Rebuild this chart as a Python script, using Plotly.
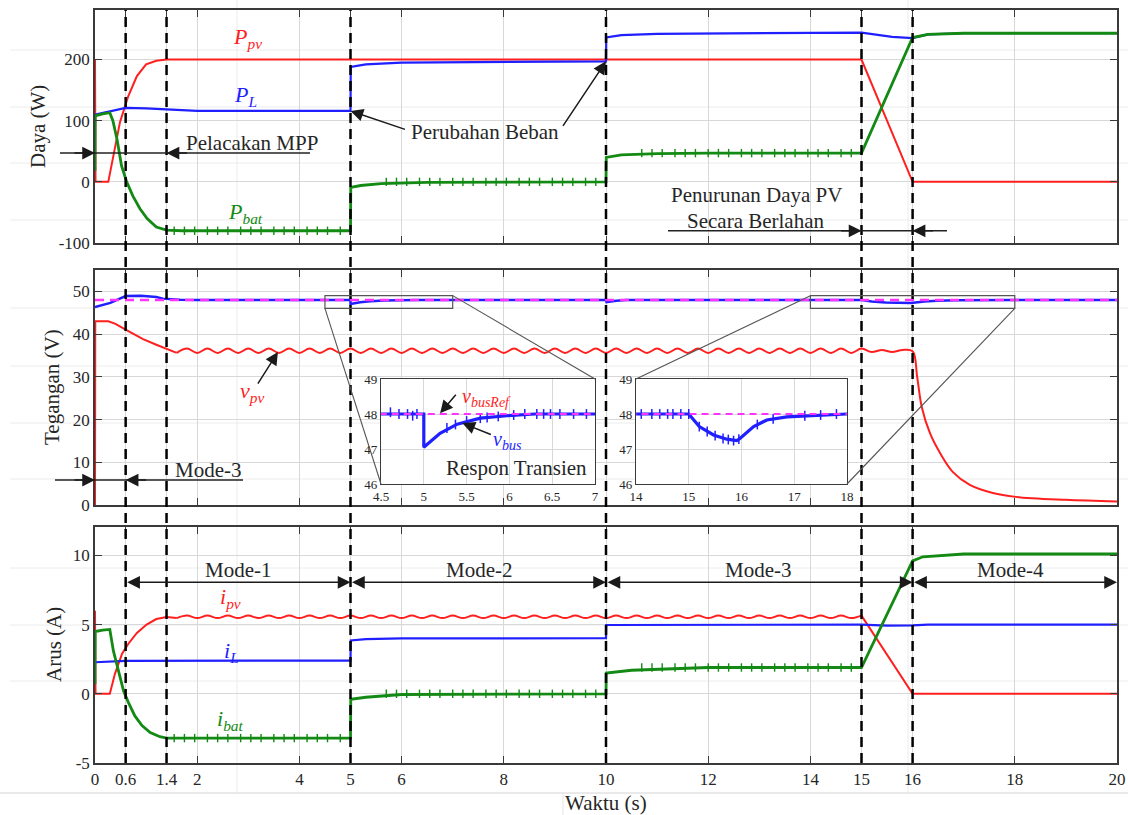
import plotly.graph_objects as go

W, H = 1128, 815
FONT = "Liberation Serif, Times New Roman, serif"
RED, BLUE, GREEN, MAG = "#ff1f1f", "#1f1fff", "#138a13", "#ff33ff"
INK = "#262626"

# ---------------- data ----------------
x_ticks = [0, 0.6, 1.4, 2, 4, 5, 6, 8, 10, 12, 14, 15, 16, 18, 20]
events = [0.6, 1.4, 5, 10, 15, 16]

# Power panel (W)
ppv_t = [0, 0, 0.01, 0.26, 0.36, 0.49, 0.65, 0.82, 1.0, 1.2, 1.4, 15, 16, 20]
ppv_v = [18, 200, 0, 0, 42, 98, 140, 173, 192, 198, 200, 200, 0, 0]
pl_t = [0, 0.3, 0.6, 1.0, 1.4, 2.0, 5.0, 5.005, 5.3, 6.0, 10.0, 10.005, 10.3, 11.0,
        15.0, 15.3, 15.6, 16.0, 16.3, 17.0, 20.0]
pl_v = [110, 116, 121, 120, 118, 116, 116, 188, 192, 195, 197, 236, 240, 242,
        244, 241, 237, 235, 241, 243, 243]
pbat_t = [0, 0.005, 0.15, 0.29, 0.35, 0.43, 0.52, 0.62, 0.74, 0.88, 1.02, 1.2, 1.4, 1.7,
          5.0, 5.005, 5.2, 5.6, 6.5, 10.0, 10.005, 10.3, 11.0, 12.0, 15.0, 16.0, 16.3, 17.0, 20.0]
pbat_v = [18, 108, 111, 113, 100, 70, 26, 0, -23, -44, -60, -74, -79, -80,
          -80, -9, -6, -3, -1, 0, 40, 44, 46, 47, 47, 236, 241, 243, 243]

# ripple sample times (steady-state MPPT ripple)
t_rip = [1.6, 1.8, 2.0, 2.2, 2.4, 2.6, 2.8, 3.0, 3.2, 3.4,
         3.6, 3.8, 4.0, 4.2, 4.4, 4.6, 4.8, 5.0, 5.2, 5.4,
         5.6, 5.8, 6.0, 6.2, 6.4, 6.6, 6.8, 7.0, 7.2, 7.4,
         7.6, 7.8, 8.0, 8.2, 8.4, 8.6, 8.8, 9.0, 9.2, 9.4,
         9.6, 9.8, 10.0, 10.2, 10.4, 10.6, 10.8, 11.0, 11.2, 11.4,
         11.6, 11.8, 12.0, 12.2, 12.4, 12.6, 12.8, 13.0, 13.2, 13.4,
         13.6, 13.8, 14.0, 14.2, 14.4, 14.6, 14.8, 15.0]

# Voltage panel (V)
vpv_t_head = [0, 0.005, 0.26, 0.4, 0.59, 0.94, 1.2, 1.4]
vpv_v_head = [0, 43, 43, 42.4, 41.1, 38.8, 37.5, 36.5]
vpv_rip = [35.6, 36.6, 35.6, 36.6, 35.6, 36.6, 35.6, 36.6, 35.6, 36.6,
           35.6, 36.6, 35.6, 36.6, 35.6, 36.6, 35.6, 36.6, 35.6, 36.6,
           35.6, 36.6, 35.6, 36.6, 35.6, 36.6, 35.6, 36.6, 35.6, 36.6,
           35.6, 36.6, 35.6, 36.6, 35.6, 36.6, 35.6, 36.6, 35.6, 36.6,
           35.6, 36.6, 35.6, 36.6, 35.6, 36.6, 35.6, 36.6, 35.6, 36.6,
           35.6, 36.6, 35.6, 36.6, 35.6, 36.6, 35.6, 36.6, 35.6, 36.6,
           35.6, 36.6, 35.6, 36.6, 35.6, 36.6, 35.6, 36.6]
vpv_t_tail = [15.2, 15.4, 15.6, 15.8, 16.0, 16.09, 16.18, 16.34, 16.54, 16.79, 17.12, 17.57, 18.02, 19.0, 20.0]
vpv_v_tail = [35.8, 36.3, 35.8, 36.3, 36.0, 29.9, 22.9, 16.8, 12.1, 7.7, 4.7, 2.8, 1.9, 1.2, 0.8]

vbus_t = [0, 0.3, 0.6, 0.9, 1.2, 1.33, 1.66, 2.0, 5.0, 5.0, 5.19, 5.39, 5.66, 5.97, 6.3,
          10.0, 10.01, 10.2, 10.4, 15.0, 15.2, 15.47, 15.72, 15.91, 15.97, 16.23, 16.48,
          16.86, 17.5, 18.0, 20.0]
vbus_v = [46.3, 47.3, 48.9, 49.0, 48.7, 48.3, 48.06, 48.0, 48.0, 47.05, 47.45, 47.71, 47.88, 47.95, 48.0,
          48.0, 47.5, 47.8, 48.0, 48.0, 47.64, 47.4, 47.28, 47.24, 47.3, 47.64, 47.83,
          47.92, 47.97, 48.0, 48.0]
vref_t = [0, 20]
vref_v = [48, 48]

# inset switching spikes on v_bus
spk_in_t = [4.61, 4.71, 4.81, 4.87, 4.92, 5.27, 5.37, 5.5, 5.66, 5.74, 5.87, 6.05, 6.18, 6.32,
            6.4, 6.48, 6.59, 6.75, 6.9,
            14.1, 14.3, 14.45, 14.6, 14.7, 14.85, 15.0, 15.2, 15.35, 15.5, 15.65, 15.75, 15.85,
            15.95, 16.3, 16.6, 17.2, 17.5, 17.8]
spk_in_v = [48.05, 48.0, 48.0, 47.95, 48.0, 47.6, 47.7, 47.8, 47.88, 47.9, 47.93, 47.97, 48.0, 48.0,
            48.0, 48.0, 48.0, 48.0, 48.0,
            48.0, 48.0, 48.0, 48.0, 48.0, 48.0, 48.0, 47.64, 47.5, 47.38, 47.3, 47.27, 47.24,
            47.28, 47.7, 47.86, 47.95, 47.97, 48.0]

# Current panel (A)
ipv_t_head = [0, 0, 0.01, 0.29, 0.39, 0.53, 0.65, 0.82, 1.01, 1.2, 1.4]
ipv_v_head = [0.7, 6.0, 0, 0, 1.44, 2.9, 3.6, 4.4, 5.0, 5.4, 5.55]
ipv_rip = [5.47, 5.65, 5.47, 5.65, 5.47, 5.65, 5.47, 5.65, 5.47, 5.65,
           5.47, 5.65, 5.47, 5.65, 5.47, 5.65, 5.47, 5.65, 5.47, 5.65,
           5.47, 5.65, 5.47, 5.65, 5.47, 5.65, 5.47, 5.65, 5.47, 5.65,
           5.47, 5.65, 5.47, 5.65, 5.47, 5.65, 5.47, 5.65, 5.47, 5.65,
           5.47, 5.65, 5.47, 5.65, 5.47, 5.65, 5.47, 5.65, 5.47, 5.65,
           5.47, 5.65, 5.47, 5.65, 5.47, 5.65, 5.47, 5.65, 5.47, 5.65,
           5.47, 5.65, 5.47, 5.65, 5.47, 5.65, 5.47, 5.65]
ipv_t_tail = [16.0, 20.0]
ipv_v_tail = [0, 0]
il_t = [0, 0.6, 5.0, 5.005, 5.3, 6.0, 10.0, 10.005, 15.0, 15.5, 16.0, 16.3, 20.0]
il_v = [2.28, 2.38, 2.4, 3.85, 3.95, 4.0, 4.02, 4.97, 5.0, 4.92, 4.95, 5.0, 5.0]
ibat_t = [0, 0.005, 0.15, 0.29, 0.36, 0.46, 0.56, 0.65, 0.78, 0.92, 1.08, 1.27, 1.4,
          5.0, 5.005, 5.3, 6.0, 10.0, 10.005, 10.5, 12.0, 15.0, 16.0, 16.2, 17.0, 20.0]
ibat_v = [0.7, 4.5, 4.6, 4.65, 3.1, 1.66, 0.2, -0.6, -1.6, -2.3, -2.8, -3.1, -3.2,
          -3.2, -0.4, -0.25, -0.05, 0.0, 1.5, 1.7, 1.9, 1.9, 9.6, 9.9, 10.1, 10.1]

# battery switching spikes (times) and plateau levels per stage
spk_t = [[1.55, 1.75, 1.95, 2.2, 2.4, 2.6, 2.85, 3.05, 3.25, 3.5, 3.7, 3.9, 4.15, 4.35, 4.55, 4.8],
         [5.7, 5.9, 6.1, 6.35, 6.55, 6.75, 7.0, 7.2, 7.4, 7.65, 7.85, 8.05, 8.3, 8.5, 8.7,
          8.95, 9.15, 9.35, 9.6, 9.8],
         [10.7, 10.9, 11.1, 11.35, 11.55, 11.75, 12.0, 12.2, 12.4, 12.65, 12.85, 13.05, 13.3,
          13.5, 13.7, 13.95, 14.15, 14.35, 14.6, 14.8]]
pbat_level = [-80, 0, 47]
ibat_level = [-3.2, 0.0, 1.9]

y1_ticks = [-100, 0, 100, 200]
y2_ticks = [0, 10, 20, 30, 40, 50]
y3_ticks = [-5, 0, 5, 10]

# ---------------- geometry ----------------
X0, X1 = 95 / W, 1117 / W
def py(p):
    return 1 - p / H
dom_top = [py(243), py(10)]
dom_mid = [py(505), py(270)]
dom_bot = [py(763), py(527)]
in1_x = [381 / W, 595 / W]
in2_x = [636 / W, 847 / W]
in_y = [py(484), py(379)]
XR = [0, 20]
YR1, YR2, YR3 = [-100, 281], [0, 55], [-5, 12.05]
IN1R, IN2R, INYR = [4.5, 7], [14, 18], [46, 49]

fig = go.Figure()

def line(x, y, xa, ya, color, width, shape="linear", dash=None):
    fig.add_trace(go.Scatter(
        x=x, y=y, xaxis=xa, yaxis=ya, mode="lines",
        line=dict(color=color, width=width, shape=shape, dash=dash,
                  smoothing=1.0 if shape == "spline" else None),
        hoverinfo="skip", showlegend=False))

def ticks_marks(x, y, xa, ya, color, size, width):
    fig.add_trace(go.Scatter(
        x=x, y=y, xaxis=xa, yaxis=ya, mode="markers",
        marker=dict(symbol="line-ns", size=size, color=color,
                    line=dict(color=color, width=width)),
        hoverinfo="skip", showlegend=False))

# top panel
line(ppv_t, ppv_v, "x", "y", RED, 2)
line(pl_t, pl_v, "x", "y", BLUE, 2.2)
line(pbat_t, pbat_v, "x", "y", GREEN, 2.8)
for ts, lv in zip(spk_t, pbat_level):
    ticks_marks(ts, [lv] * len(ts), "x", "y", GREEN, 6, 1.4)

# middle panel
vpv_t = vpv_t_head + t_rip + vpv_t_tail
vpv_v = vpv_v_head + vpv_rip + vpv_v_tail
nh = len(vpv_t_head)
line(vpv_t[:nh + 1], vpv_v[:nh + 1], "x2", "y2", RED, 2)
line(vpv_t[nh:], vpv_v[nh:], "x2", "y2", RED, 2, shape="spline")
line(vbus_t, vbus_v, "x2", "y2", BLUE, 2.5)
line(vref_t, vref_v, "x2", "y2", MAG, 2.5, dash="9px,6px")

# bottom panel
ipv_t = ipv_t_head + t_rip + ipv_t_tail
ipv_v = ipv_v_head + ipv_rip + ipv_v_tail
nh = len(ipv_t_head)
nr = len(t_rip)
line(ipv_t[:nh + 1], ipv_v[:nh + 1], "x3", "y3", RED, 2)
line(ipv_t[nh:nh + nr], ipv_v[nh:nh + nr], "x3", "y3", RED, 2, shape="spline")
line(ipv_t[nh + nr - 1:], ipv_v[nh + nr - 1:], "x3", "y3", RED, 2)
line(il_t, il_v, "x3", "y3", BLUE, 2.2)
line(ibat_t, ibat_v, "x3", "y3", GREEN, 2.8)
for ts, lv in zip(spk_t, ibat_level):
    ticks_marks(ts, [lv] * len(ts), "x3", "y3", GREEN, 6, 1.4)

# insets
for xa, ya in (("x4", "y4"), ("x5", "y5")):
    line(vbus_t, vbus_v, xa, ya, BLUE, 3.2)
    ticks_marks(spk_in_t, spk_in_v, xa, ya, BLUE, 7, 1.5)
    line(vref_t, vref_v, xa, ya, MAG, 2, dash="7px,5px")

# ---------------- axes ----------------
def axis(**kw):
    d = dict(showline=True, linecolor="#3a3a3a", linewidth=1.5, mirror="ticks",
             ticks="inside", ticklen=7, tickwidth=1.2, tickcolor="#3a3a3a",
             showgrid=True, gridcolor="#d8d8d8", gridwidth=1, zeroline=False,
             automargin=False, fixedrange=True,
             tickfont=dict(family=FONT, size=17, color=INK))
    d.update(kw)
    return d

def inset_axis(**kw):
    d = axis(ticks="", mirror=True, linewidth=1.2, tickfont=dict(family=FONT, size=13, color=INK))
    d.update(kw)
    return d

def lab(vals):
    return [str(v) for v in vals]

fig.update_layout(
    width=W, height=H, template="none",
    margin=dict(l=0, r=0, t=0, b=0),
    paper_bgcolor="white", plot_bgcolor="white",
    font=dict(family=FONT, color=INK),
    showlegend=False,
    xaxis=axis(domain=[X0, X1], range=XR, tickvals=x_ticks, showticklabels=False, anchor="y"),
    yaxis=axis(domain=dom_top, range=YR1, tickvals=y1_ticks, ticktext=lab(y1_ticks), anchor="x"),
    xaxis2=axis(domain=[X0, X1], range=XR, tickvals=x_ticks, showticklabels=False, anchor="y2"),
    yaxis2=axis(domain=dom_mid, range=YR2, tickvals=y2_ticks, ticktext=lab(y2_ticks), anchor="x2"),
    xaxis3=axis(domain=[X0, X1], range=XR, tickvals=x_ticks, ticktext=lab(x_ticks), anchor="y3"),
    yaxis3=axis(domain=dom_bot, range=YR3, tickvals=y3_ticks, ticktext=lab(y3_ticks), anchor="x3"),
    xaxis4=inset_axis(domain=in1_x, range=IN1R, tickvals=[4.5, 5, 5.5, 6, 6.5, 7], anchor="y4"),
    yaxis4=inset_axis(domain=in_y, range=INYR, tickvals=[46, 47, 48, 49], anchor="x4"),
    xaxis5=inset_axis(domain=in2_x, range=IN2R, tickvals=[14, 15, 16, 17, 18], anchor="y5"),
    yaxis5=inset_axis(domain=in_y, range=INYR, tickvals=[46, 47, 48, 49], anchor="x5"),
)

# ---------------- shapes ----------------
shapes = []
# faint background grid of the source page
for yp in [50, 107, 163, 220, 308, 366, 423, 479, 568, 625, 681]:
    shapes.append(dict(type="line", xref="paper", yref="paper", x0=10 / W, x1=1,
                       y0=py(yp), y1=py(yp), line=dict(color="#ececec", width=1), layer="below"))
for xp in [237, 908]:
    shapes.append(dict(type="line", xref="paper", yref="paper", x0=xp / W, x1=xp / W,
                       y0=py(793), y1=1, line=dict(color="#ececec", width=1), layer="below"))
shapes.append(dict(type="line", xref="paper", yref="paper", x0=0, x1=1, y0=py(793), y1=py(793),
                   line=dict(color="#d4d4d4", width=1), layer="below"))
shapes.append(dict(type="line", xref="paper", yref="paper", x0=563 / W, x1=563 / W, y0=0, y1=py(793),
                   line=dict(color="#e4e4e4", width=1), layer="below"))

# event dashed lines across all panels
for t in events:
    shapes.append(dict(type="line", xref="x", yref="paper", x0=t, x1=t,
                       y0=dom_bot[0], y1=dom_top[1],
                       line=dict(color="black", width=2.5, dash="10px,6px"), layer="above"))

def mx(t):
    return X0 + (t - XR[0]) / (XR[1] - XR[0]) * (X1 - X0)
def my2(v):
    return dom_mid[0] + (v - YR2[0]) / (YR2[1] - YR2[0]) * (dom_mid[1] - dom_mid[0])

# zoom boxes and connectors
for (xr, ix) in ((IN1R, in1_x), (IN2R, in2_x)):
    shapes.append(dict(type="rect", xref="x2", yref="y2", x0=xr[0], x1=xr[1], y0=INYR[0], y1=INYR[1],
                       line=dict(color="#555555", width=1.2), layer="above"))
shapes.append(dict(type="line", xref="paper", yref="paper", x0=mx(IN1R[0]), y0=my2(INYR[0]),
                   x1=in1_x[0], y1=in_y[0], line=dict(color="#555555", width=1.1)))
shapes.append(dict(type="line", xref="paper", yref="paper", x0=mx(IN1R[1]), y0=my2(INYR[1]),
                   x1=in1_x[1], y1=in_y[1], line=dict(color="#555555", width=1.1)))
shapes.append(dict(type="line", xref="paper", yref="paper", x0=mx(IN2R[0]), y0=my2(INYR[1]),
                   x1=in2_x[0], y1=in_y[1], line=dict(color="#555555", width=1.1)))
shapes.append(dict(type="line", xref="paper", yref="paper", x0=mx(IN2R[1]), y0=my2(INYR[0]),
                   x1=in2_x[1], y1=in_y[0], line=dict(color="#555555", width=1.1)))

# horizontal guide lines for interval markers
shapes.append(dict(type="line", xref="paper", yref="y", x0=60 / W, x1=310 / W, y0=47, y1=47,
                   line=dict(color="#222", width=1.5)))
shapes.append(dict(type="line", xref="paper", yref="y", x0=668 / W, x1=947 / W, y0=-80, y1=-80,
                   line=dict(color="#222", width=1.5)))
shapes.append(dict(type="line", xref="paper", yref="y2", x0=55 / W, x1=243 / W, y0=5.84, y1=5.84,
                   line=dict(color="#222", width=1.5)))
fig.update_layout(shapes=shapes)

# ---------------- annotations ----------------
anns = []
def txt(xp, yp, text, color=INK, size=21, angle=0):
    anns.append(dict(xref="paper", yref="paper", x=xp / W, y=py(yp), text=text, showarrow=False,
                     xanchor="center", yanchor="middle", textangle=angle,
                     font=dict(family=FONT, size=size, color=color)))

def arrow(x, y, xr, yr, ax, ay, axref="pixel", side="end"):
    d = dict(xref=xr, yref=yr, x=x, y=y, ax=ax, ay=ay, text="", showarrow=True,
             arrowhead=2, arrowsize=1.7, arrowwidth=1.5, arrowcolor="#1a1a1a",
             standoff=0, startstandoff=0, arrowside=side)
    if axref != "pixel":
        d.update(axref=axref, ayref=yr, startarrowhead=2, startarrowsize=1.7)
    anns.append(d)

def it(main, sub):
    return f"<i>{main}</i><sub><i>{sub}</i></sub>"

txt(38, 127, "Daya (W)", angle=-90)
txt(52, 387, "Tegangan (V)", angle=-90)
txt(54, 645, "Arus (A)", angle=-90)
txt(606, 803, "Waktu (s)")

txt(247, 38, it("P", "pv"), RED, 22)
txt(245, 96, it("P", "L"), BLUE, 22)
txt(245, 213, it("P", "bat"), GREEN, 22)
txt(252, 143, "Pelacakan MPP")
txt(485, 132, "Perubahan Beban")
txt(756, 195, "Penurunan Daya PV")
txt(756, 221, "Secara Berlahan")

txt(252, 392, it("v", "pv"), RED, 22)
txt(208, 470, "Mode-3")
txt(486, 397, it("v", "busRef"), RED, 20)
txt(507, 440, it("v", "bus"), BLUE, 20)
txt(516, 468, "Respon Transien")

txt(238, 570, "Mode-1")
txt(479, 570, "Mode-2")
txt(758, 570, "Mode-3")
txt(1010, 570, "Mode-4")
txt(230, 598, it("i", "pv"), RED, 22)
txt(231, 652, it("i", "L"), BLUE, 22)
txt(230, 720, it("i", "bat"), GREEN, 22)

# interval arrows
arrow(0, 47, "x", "y", -22, 0)
arrow(1.4, 47, "x", "y", 22, 0)
arrow(15, -80, "x", "y", -22, 0)
arrow(16, -80, "x", "y", 22, 0)
arrow(0, 5.84, "x2", "y2", -22, 0)
arrow(0.6, 5.84, "x2", "y2", 22, 0)
# pointer arrows
arrow(5, 116, "x", "y", 56, 19)
arrow(10, 197, "x", "y", -44, 66)
arrow(3.58, 35.8, "x2", "y2", -21, 33)
arrow(5.19, 48.02, "x4", "y4", 17, -20)
arrow(5.45, 47.74, "x4", "y4", 30, 12)
# mode spans (double headed)
mode_edges = [0.6, 5, 10, 16, 20]
for a, b in zip(mode_edges[:-1], mode_edges[1:]):
    arrow(b, 8.05, "x3", "y3", a, 8.05, axref="x3", side="end+start")

fig.update_layout(annotations=anns)
fig.write_html("out.html", config={"displayModeBar": False},
               post_script="document.body.style.margin='0';document.body.style.overflow='hidden';")
